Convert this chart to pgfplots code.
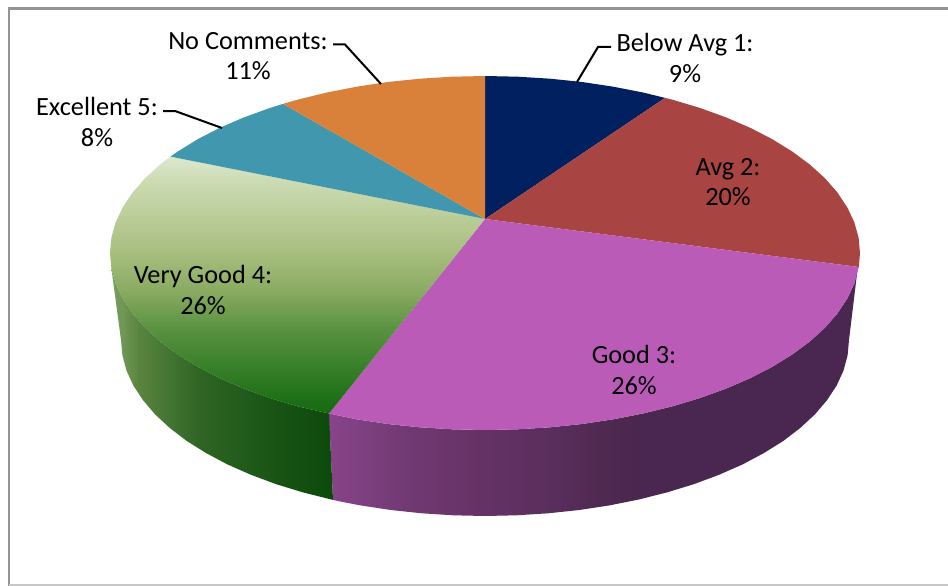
\documentclass[border=0pt]{standalone}
\usepackage{fontspec}
\setmainfont{Carlito}
\usepackage{pgfplots}
\pgfplotsset{compat=1.18}
\definecolor{cnavy}{HTML}{002060}
\definecolor{cavg}{HTML}{A84442}
\definecolor{cgood}{HTML}{BB5BB8}
\definecolor{cexc}{HTML}{4197AE}
\definecolor{cno}{HTML}{D9803B}
\definecolor{ga}{HTML}{7B9E5E}
\definecolor{gb}{HTML}{6F9654}
\definecolor{gc}{HTML}{5A853F}
\definecolor{gd}{HTML}{437532}
\definecolor{ge}{HTML}{2F6424}
\definecolor{gf}{HTML}{205A1A}
\definecolor{gg}{HTML}{134F10}
\definecolor{gh}{HTML}{0C4A0B}
\definecolor{pa}{HTML}{884489}
\definecolor{pb}{HTML}{733A75}
\definecolor{pc}{HTML}{653265}
\definecolor{pd}{HTML}{592E5D}
\definecolor{pe}{HTML}{4F2950}
\definecolor{pf}{HTML}{4A2750}
\definecolor{va}{HTML}{186A12}
\definecolor{vb}{HTML}{1C6F16}
\definecolor{vc}{HTML}{357E27}
\definecolor{vd}{HTML}{58913F}
\definecolor{ve}{HTML}{8AAB62}
\definecolor{vf}{HTML}{A9BF80}
\definecolor{vg}{HTML}{CDDCB4}
\definecolor{vh}{HTML}{DDE8D0}
\pgfdeclarehorizontalshading{gside}{100bp}{color(0bp)=(ga); color(25bp)=(ga); color(27.7bp)=(gb); color(31bp)=(gc); color(38bp)=(gd); color(44.8bp)=(ge); color(56bp)=(gf); color(67.5bp)=(gg); color(75bp)=(gh); color(100bp)=(gh)}
\pgfdeclarehorizontalshading{pside}{100bp}{color(0bp)=(pa); color(25bp)=(pa); color(31.7bp)=(pb); color(39.3bp)=(pc); color(46.2bp)=(pd); color(50.9bp)=(pe); color(54.5bp)=(pf); color(100bp)=(pf)}
\pgfdeclareverticalshading{vtop}{100bp}{color(0bp)=(va); color(25bp)=(va); color(27.5bp)=(vb); color(33.4bp)=(vc); color(41.2bp)=(vd); color(49bp)=(ve); color(56.8bp)=(vf); color(70.5bp)=(vg); color(75bp)=(vh); color(100bp)=(vh)}
\newcommand{\lab}[3]{\node[anchor=base,inner sep=0pt,font=\fontsize{26.3}{30}\selectfont,text=black] at (axis cs:#1,#2) {#3};}
\begin{document}
\begin{tikzpicture}
\begin{axis}[
  width=948pt,height=586pt,scale only axis,
  xmin=0,xmax=948,ymin=0,ymax=586,y dir=reverse,
  hide axis,clip=true]
% frame
\addplot[draw=none,forget plot,fill=white] coordinates {(0,0)(948,0)(948,586)(0,586)} --cycle;
\addplot[color=black!42,line width=2.2pt,forget plot] coordinates {(9,586)(9,8.5)(948,8.5)};
\addplot[color=black!22,line width=1.4pt,forget plot] coordinates {(9,585)(948,585)};
% side walls
\addplot[draw=none,forget plot,shade,shading=pside,shading angle=0] coordinates {
 (857.7,268)(854.3,283.7)(847.2,298.8)(837.4,313.5)(824.9,327.8)(809.8,341.5)(792.2,354.5)(772.3,366.8)(750.2,378.2)(726.1,388.6)(700.1,398.0)(672.5,406.3)(643.5,413.4)(613.3,419.3)(582.1,424.0)(550.1,427.3)(517.7,429.3)(485,430)(452.3,429.3)(419.9,427.3)(387.9,424.0)(356.7,419.3)(329,413.5)
 (333,499.9)(342.8,502)(360.5,505.4)(390.8,510)(421.8,513.3)(453.3,515.3)(485,516)(516.7,515.3)(548.2,513.3)(579.2,510)(609.5,505.4)(638.8,499.5)(667,492.4)(693.8,484.2)(719,474.8)(742.4,464.5)(763.8,453.1)(783.2,441)(800.2,428)(814.9,414.4)(827,400.2)(836.6,385.6)(843.5,370.6)(847.6,355.3)(849,340)} --cycle;
\addplot[draw=none,forget plot,shade,shading=gside,shading angle=0] coordinates {
 (329,413.5)(297.5,406.3)(269.9,398.0)(243.9,388.6)(219.8,378.2)(197.7,366.8)(177.8,354.5)(160.2,341.5)(145.1,327.8)(132.6,313.5)(122.8,298.8)(115.7,283.7)(111.4,268.4)
 (121,340)(122.4,355.3)(126.5,370.6)(133.4,385.6)(143,400.2)(155.1,414.4)(169.8,428)(186.8,441)(206.2,453.1)(227.6,464.5)(251,474.8)(276.2,484.2)(303,492.4)(333,499.9)} --cycle;
% top slices
\addplot[draw=none,forget plot,fill=cnavy] coordinates {
 (485,219)(485,76)(517.7,76.7)(550.1,78.7)(582.1,82.0)(613.3,86.7)(643.5,92.6)(665,97.9)} --cycle;
\addplot[draw=none,forget plot,fill=cavg] coordinates {
 (485,219)(665,97.9)(672.5,99.7)(700.1,108.0)(726.1,117.4)(750.2,127.8)(772.3,139.2)(792.2,151.5)(809.8,164.5)(824.9,178.2)(837.4,192.5)(847.2,207.2)(854.3,222.3)(858.6,237.6)(860,253)(858.8,267)} --cycle;
\addplot[draw=none,forget plot,fill=cgood] coordinates {
 (485,219)(858.8,267)(854.3,283.7)(847.2,298.8)(837.4,313.5)(824.9,327.8)(809.8,341.5)(792.2,354.5)(772.3,366.8)(750.2,378.2)(726.1,388.6)(700.1,398.0)(672.5,406.3)(643.5,413.4)(613.3,419.3)(582.1,424.0)(550.1,427.3)(517.7,429.3)(485,430)(452.3,429.3)(419.9,427.3)(387.9,424.0)(356.7,419.3)(329,413.5)} --cycle;
\addplot[draw=none,forget plot,shade,shading=vtop,shading angle=0] coordinates {
 (485,219)(329,413.5)(297.5,406.3)(269.9,398.0)(243.9,388.6)(219.8,378.2)(197.7,366.8)(177.8,354.5)(160.2,341.5)(145.1,327.8)(132.6,313.5)(122.8,298.8)(115.7,283.7)(111.4,268.4)(110,253)(111.4,237.6)(115.7,222.3)(122.8,207.2)(132.6,192.5)(145.1,178.2)(160.2,164.5)(170.5,156.6)} --cycle;
\addplot[draw=none,forget plot,fill=cexc] coordinates {
 (485,219)(170.5,156.6)(177.8,151.5)(197.7,139.2)(219.8,127.8)(243.9,117.4)(269.9,108.0)(283,103.9)} --cycle;
\addplot[draw=none,forget plot,fill=cno] coordinates {
 (485,219)(283,103.9)(297.5,99.7)(326.5,92.6)(356.7,86.7)(387.9,82.0)(419.9,78.7)(452.3,76.7)(485,76)} --cycle;
% leader lines
\addplot[black,line width=2pt,forget plot] coordinates {(577,82)(598,47)(611,47)};
\addplot[black,line width=2pt,forget plot] coordinates {(381,84)(345,44.5)(333,44.5)};
\addplot[black,line width=2pt,forget plot] coordinates {(222,128)(175,111)(163,111)};
% labels
\lab{685}{51.5}{Below Avg 1:}
\lab{685}{82}{9\%}
\lab{248}{49.5}{No Comments:}
\lab{248}{80}{11\%}
\lab{97}{115.5}{Excellent 5:}
\lab{97}{146}{8\%}
\lab{203}{283.5}{Very Good 4:}
\lab{203}{314}{26\%}
\lab{728}{175}{Avg 2:}
\lab{728}{205}{20\%}
\lab{634}{363.5}{Good 3:}
\lab{634}{394}{26\%}
\end{axis}
\end{tikzpicture}
\end{document}
